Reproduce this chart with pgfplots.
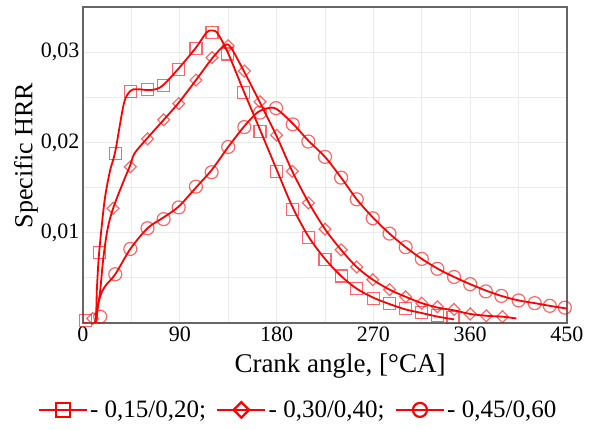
\documentclass[border=0pt]{standalone}
\usepackage{fontspec}
\setmainfont{Liberation Serif}
\usepackage{pgfplots}
\pgfplotsset{compat=1.18}
\begin{document}
\begin{tikzpicture}
\useasboundingbox (-83pt,-107pt) rectangle (517pt,323pt);
\begin{axis}[
  at={(0pt,0pt)}, anchor=south west,
  scale only axis, width=484pt, height=316pt,
  xmin=0, xmax=450, ymin=0, ymax=0.035,
  xtick={0,90,180,270,360,450}, minor xtick={45,135,225,315,405},
  xticklabels={0,90,180,270,360,450},
  ytick={0.01,0.02,0.03}, minor ytick={0.005,0.015,0.025},
  yticklabels={{0,01},{0,02},{0,03}},
  grid=both, grid style={draw=black!8, line width=0.8pt},
  major tick length=0pt, minor tick length=0pt,
  axis line style={draw=black!60, line width=1.2pt},
  tick label style={font=\fontsize{22}{26}\selectfont},
  xlabel={Crank angle, [°CA]},
  xlabel style={font=\fontsize{27}{30}\selectfont, at={(axis description cs:0.531,-0.136)}, anchor=center},
  ylabel={Specific HRR},
  ylabel style={font=\fontsize{26}{30}\selectfont, at={(axis description cs:-0.118,0.53)}, anchor=center},
  legend style={at={(axis description cs:0.444,-0.275)}, anchor=center, draw=none, fill=none,
    font=\fontsize{25}{28}\selectfont, legend columns=3,
    /tikz/every even column/.append style={column sep=8pt}},
  legend cell align=left,
  legend image code/.code={\draw[mark repeat=2,mark phase=2,#1] plot coordinates {(0pt,0pt)(24pt,0pt)(48pt,0pt)};},
]
% ---- lines ----
\addplot[red, line width=1.8pt, smooth, forget plot] coordinates {
(0,0) (11,0) (13,0.004) (15,0.0078) (20,0.0135) (25,0.0168) (30,0.0190) (38,0.0243) (44,0.0257) (50,0.0259) (60,0.0258) (68,0.0259) (75,0.0264) (89,0.0282) (105,0.0305) (115,0.0322) (120,0.0324) (125,0.0321) (134.5,0.0300) (149,0.0258) (164.6,0.0214) (180,0.0170) (194.6,0.0129) (209.5,0.0096) (225,0.0071) (240,0.0052) (254.5,0.0038) (270,0.0028) (285,0.0021) (300,0.0015) (315,0.0011) (330,0.0007) (345,0.0004)
};
\addplot[red, line width=1.8pt, smooth, forget plot] coordinates {
(0,0) (11,0) (14,0.002) (16,0.0036) (19,0.0073) (23,0.0105) (28,0.0127) (37,0.0155) (44,0.0175) (48,0.0188) (60,0.0205) (75,0.0225) (89,0.0244) (105,0.0269) (120,0.0293) (131,0.0307) (137,0.0306) (150,0.0278) (164.6,0.0244) (180,0.0207) (194.6,0.0168) (209.5,0.0134) (225,0.0104) (240,0.0081) (254.5,0.0062) (269.4,0.0048) (285,0.0037) (300,0.0029) (315,0.0022) (330,0.0017) (345,0.0014) (360,0.0010) (375,0.0008) (390,0.0007) (403,0.0005)
};
\addplot[red, line width=1.8pt, smooth, forget plot] coordinates {
(0,0) (11,0) (14,0.002) (17,0.0033) (22,0.0043) (30,0.0054) (44,0.0082) (60,0.0105) (75,0.0117) (89,0.0129) (105,0.0150) (120,0.0170) (135,0.0195) (150,0.0218) (162,0.0233) (172,0.0238) (180,0.0237) (195,0.0221) (209.5,0.0202) (225,0.0184) (240,0.0161) (254.5,0.0137) (269.4,0.0117) (285,0.0099) (300,0.0084) (315,0.0071) (330,0.0060) (345,0.0051) (360,0.0043) (374.5,0.0036) (389,0.0030) (405,0.0025) (420,0.0022) (434,0.0019) (450,0.0016)
};
% ---- markers ----
\addplot[only marks, mark=square, mark size=6pt, mark options={draw=red, draw opacity=0.6, line width=1.2pt, fill=none}, forget plot] coordinates {
(2,0.0003) (15,0.0078) (30,0.0188) (44,0.0256) (60,0.0259) (75,0.0263) (89,0.0281) (105,0.0304) (120,0.0322) (134.5,0.0298) (149,0.0255) (164.6,0.0212) (180,0.0168) (194.6,0.0126) (209.5,0.0095) (225,0.0070) (240,0.0052) (254.5,0.0038) (270,0.0027) (285,0.0022) (300,0.0016) (315,0.0012) (329.5,0.0008) (344,0.0006)
};
\addplot[only marks, mark=square, mark size=4.2pt, mark options={rotate=45, draw=red, draw opacity=0.6, line width=1.2pt, fill=none}, forget plot] coordinates {
(9,0.0005) (28,0.0127) (44,0.0173) (60,0.0204) (75,0.0225) (89,0.0243) (105,0.0269) (120,0.0294) (135,0.0307) (150,0.0279) (164.6,0.0245) (180,0.0208) (194.6,0.0168) (209.5,0.0133) (225,0.0104) (240,0.0081) (254.5,0.0062) (269.4,0.0048) (285,0.0037) (300,0.0029) (315,0.0022) (329.5,0.0018) (345,0.0015) (360,0.0010) (375,0.0008) (390,0.0007)
};
\addplot[only marks, mark=o, mark size=6.5pt, mark options={draw=red, draw opacity=0.6, line width=1.2pt, fill=none}, forget plot] coordinates {
(16,0.0007) (30,0.0054) (44,0.0082) (60,0.0105) (75,0.0115) (89,0.0128) (105,0.0151) (119.6,0.0167) (135,0.0195) (150,0.0217) (164.6,0.0233) (179.5,0.0238) (195,0.0220) (209.5,0.0201) (225,0.0184) (240,0.0161) (254.5,0.0137) (269.4,0.0116) (285,0.0099) (300,0.0084) (315,0.0071) (329.5,0.0060) (345,0.0051) (360,0.0043) (374.5,0.0035) (389,0.0030) (405,0.0025) (420,0.0022) (434,0.0019) (448,0.0017)
};
% ---- legend ----
\addlegendimage{red, line width=2.6pt, mark=square, mark size=7pt, mark options={solid, line width=2.2pt}}
\addlegendentry{- 0,15/0,20;}
\addlegendimage{red, line width=2.6pt, mark=square, mark size=5.5pt, mark options={solid, rotate=45, line width=2.2pt}}
\addlegendentry{- 0,30/0,40;}
\addlegendimage{red, line width=2.6pt, mark=o, mark size=7pt, mark options={solid, line width=2.2pt}}
\addlegendentry{- 0,45/0,60}
\end{axis}
\end{tikzpicture}
\end{document}
